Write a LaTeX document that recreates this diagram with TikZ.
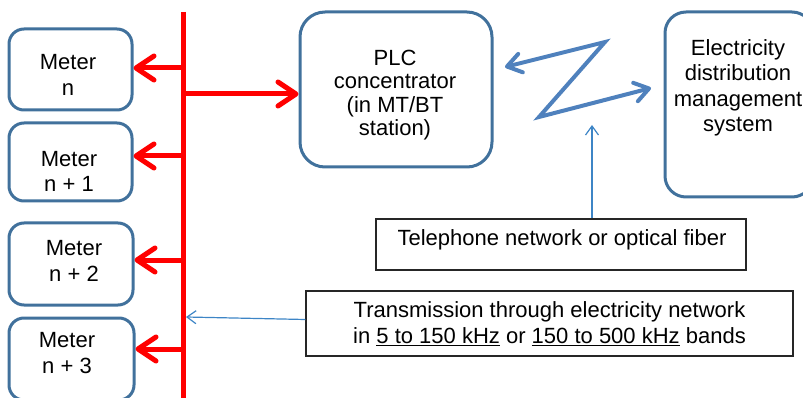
\documentclass[tikz,border=0pt]{standalone}
\usepackage{fontspec}
\setmainfont{Liberation Sans}
\usetikzlibrary{arrows.meta}
\definecolor{boxblue}{HTML}{41719C}
\definecolor{zblue}{HTML}{4F81BD}
\definecolor{thinblue}{HTML}{3D85C6}
\definecolor{busred}{HTML}{FF0000}

\begin{document}
\begin{tikzpicture}[x=1pt, y=-1pt,
  font=\fontsize{22}{25.5}\selectfont,
  meterbox/.style={draw=boxblue, line width=3pt, rounded corners=15pt,
    minimum width=123pt, minimum height=81pt, inner sep=0pt},
  bigbox/.style={draw=boxblue, line width=3pt, rounded corners=25pt, inner sep=0pt},
  notebox/.style={draw=black!85, line width=1.2pt, inner sep=0pt},
  txt/.style={align=center, inner sep=0pt},
  bus/.style={busred, line width=5pt},
  feed/.style={busred, line width=5pt, -{Straight Barb[length=18pt,width=24pt,round]}},
  radio/.style={zblue, line width=4pt, line join=miter,
    {Straight Barb[length=14pt,width=19pt,round]}-{Straight Barb[length=14pt,width=19pt,round]}},
  thin/.style={thinblue, line width=1.2pt, -{Straight Barb[length=9pt,width=13pt]}}
]
\useasboundingbox (0,0) rectangle (803,398);
\clip (0,0) rectangle (803,398);

% meters
\node[meterbox] (m1) at (70.5,69.5) {};
\node[meterbox, minimum height=78pt] (m2) at (70.5,162) {};
\node[meterbox, minimum height=82pt, minimum width=124pt] (m3) at (71,264) {};
\node[meterbox, minimum height=82pt, minimum width=125pt] (m4) at (71.5,359) {};
\node[txt] (m1t) at (68,75) {Meter\\n};
\node[txt] (m2t) at (69,171.5) {Meter\\n + 1};
\node[txt] (m3t) at (74,261) {Meter\\n + 2};
\node[txt] (m4t) at (67,353) {Meter\\n + 3};

% concentrator and management system (the latter runs past the right edge)
\node[bigbox, minimum width=192pt, minimum height=155pt] (plc) at (396,89.5) {};
\node[txt, font=\fontsize{22}{23.5}\selectfont] (plct) at (395,95)
  {PLC\\concentrator\\(in MT/BT\\station)};
\node[bigbox, rounded corners=21pt, minimum width=148pt, minimum height=185pt] (edms) at (739,104.5) {};
\node[txt] (edmst) at (738,88)
  {Electricity\\distribution\\management\\system};

% power line bus
\coordinate (btop) at (183,12);
\coordinate (bbot) at (183,402);
\draw[bus] (btop) -- (bbot);
\coordinate (t1) at (183,68);
\coordinate (t2) at (183,156);
\coordinate (t3) at (183,260);
\coordinate (t4) at (183,349);
\coordinate (tp) at (183,94);
\draw[feed] (t1) -- (m1.east |- t1);
\draw[feed] (t2) -- (m2.east |- t2);
\draw[feed] (t3) -- (m3.east |- t3);
\draw[feed] (t4) -- (m4.east |- t4);
\draw[feed] (tp) -- (plc.west |- tp);

% radio link
\coordinate (z1) at (505,67);
\coordinate (z2) at (605,42);
\coordinate (z3) at (539,117);
\coordinate (z4) at (651,88);
\draw[radio] (z1) -- (z2) -- (z3) -- (z4);

% notes
\node[notebox, minimum width=370pt, minimum height=51pt] (tel) at (561,244.5) {};
\node[txt] (telt) at (562,240) {Telephone network or optical fiber};
\node[notebox, minimum width=487pt, minimum height=65pt, txt] (trans) at (549.5,323.5)
  {Transmission through electricity network\\
   in \underline{5 to 150 kHz} or \underline{150 to 500 kHz} bands};
\coordinate (ztap) at (592,125);
\draw[thin] (tel.north -| ztap) -- (ztap);
\coordinate (btap) at (186,317);
\draw[thin] ([yshift=4pt]trans.west) -- (btap);
\end{tikzpicture}
\end{document}
